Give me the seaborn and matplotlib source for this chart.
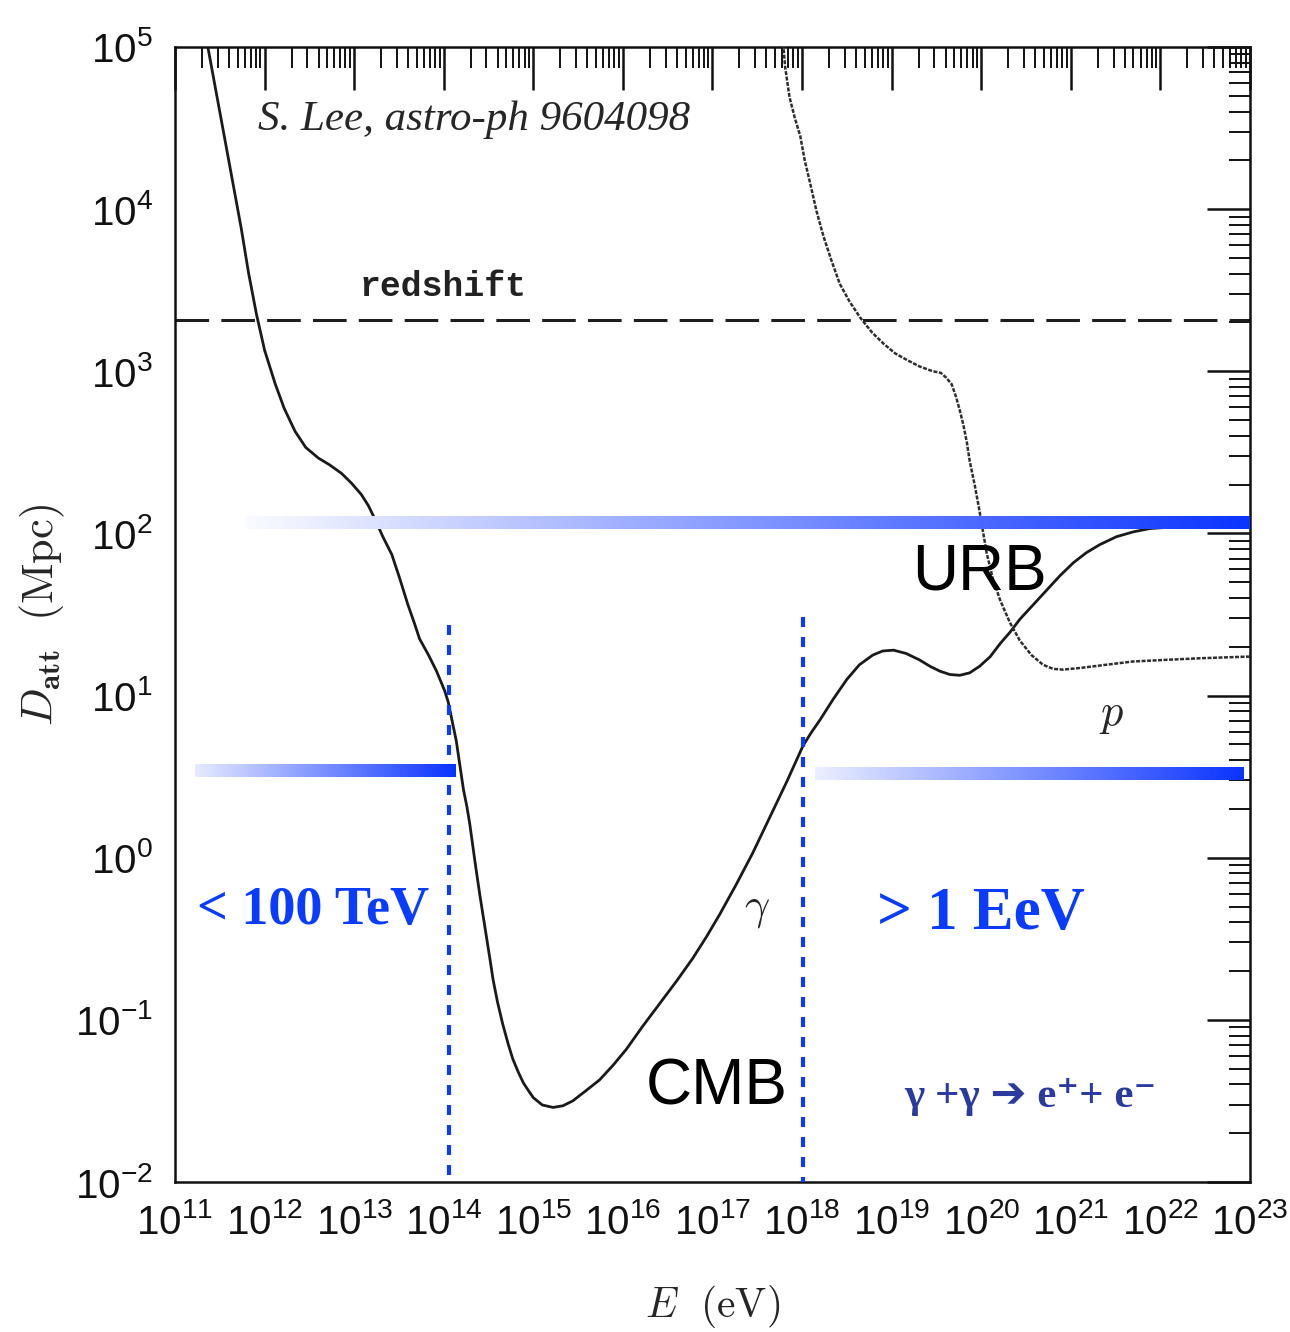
import numpy as np
import pandas as pd
import matplotlib
matplotlib.use("Agg")
import matplotlib.pyplot as plt
import seaborn as sns
from matplotlib.ticker import LogLocator, NullFormatter, LogFormatterSciNotation, FixedLocator
from matplotlib.collections import LineCollection

# ---------------- data (log10 values) ----------------
gamma_logE = [11.36, 11.45, 11.56, 11.65, 11.74, 11.82, 11.91, 12.00, 12.12, 12.22,
              12.34, 12.46, 12.60, 12.72, 12.86, 12.97, 13.08, 13.16, 13.23, 13.32,
              13.42, 13.51, 13.60, 13.67, 13.73, 13.78, 13.83, 13.92, 14.01, 14.05,
              14.08, 14.11, 14.14, 14.18, 14.22, 14.26, 14.29, 14.35, 14.40, 14.44,
              14.48, 14.52, 14.55, 14.60, 14.66, 14.72, 14.77, 14.83, 14.89, 14.95,
              15.00, 15.10, 15.22, 15.33, 15.44, 15.58, 15.74, 15.89, 16.04, 16.22,
              16.41, 16.60, 16.78, 16.93, 17.08, 17.26, 17.45, 17.64, 17.83, 17.92,
              18.01, 18.10, 18.20, 18.35, 18.50, 18.64, 18.79, 18.90, 19.02, 19.16,
              19.31, 19.43, 19.54, 19.65, 19.76, 19.87, 19.98, 20.10, 20.21, 20.32,
              20.43, 20.58, 20.73, 20.88, 21.03, 21.17, 21.32, 21.51, 21.70, 21.88,
              22.14, 22.50, 23.00]
gamma_logD = [5.02, 4.75, 4.42, 4.15, 3.88, 3.61, 3.35, 3.13, 2.92, 2.77,
              2.63, 2.53, 2.465, 2.425, 2.37, 2.31, 2.24, 2.17, 2.09, 1.98,
              1.87, 1.72, 1.56, 1.45, 1.35, 1.30, 1.25, 1.15, 1.03, 0.96,
              0.88, 0.80, 0.72, 0.57, 0.42, 0.31, 0.21, -0.03, -0.22, -0.36,
              -0.50, -0.64, -0.75, -0.89, -1.03, -1.15, -1.24, -1.32, -1.39, -1.44,
              -1.48, -1.525, -1.54, -1.53, -1.50, -1.44, -1.37, -1.28, -1.18, -1.04,
              -0.90, -0.76, -0.62, -0.49, -0.35, -0.17, 0.03, 0.25, 0.47, 0.58,
              0.69, 0.77, 0.85, 0.98, 1.10, 1.19, 1.25, 1.275, 1.28, 1.26,
              1.22, 1.18, 1.15, 1.13, 1.125, 1.14, 1.18, 1.24, 1.32, 1.39,
              1.47, 1.56, 1.65, 1.74, 1.82, 1.88, 1.93, 1.98, 2.01, 2.03,
              2.04, 2.045, 2.05]

proton_logE = [17.79, 17.81, 17.86, 17.92, 17.98, 18.03, 18.09, 18.16, 18.24, 18.33,
               18.42, 18.53, 18.65, 18.78, 18.91, 19.04, 19.17, 19.31, 19.46, 19.55,
               19.61, 19.67, 19.72, 19.76, 19.80, 19.84, 19.87, 19.93, 19.98, 20.02,
               20.06, 20.13, 20.21, 20.32, 20.43, 20.56, 20.69, 20.80, 20.91, 21.10,
               21.32, 21.69, 22.05, 22.44, 22.96, 23.00]
proton_logD = [5.02, 4.88, 4.69, 4.56, 4.45, 4.30, 4.16, 3.99, 3.83, 3.68,
               3.54, 3.43, 3.33, 3.24, 3.17, 3.11, 3.07, 3.03, 3.00, 2.99,
               2.96, 2.92, 2.84, 2.76, 2.67, 2.56, 2.45, 2.29, 2.14, 2.01,
               1.88, 1.72, 1.59, 1.45, 1.34, 1.25, 1.19, 1.165, 1.16, 1.17,
               1.185, 1.21, 1.22, 1.23, 1.24, 1.24]

redshift_D = 2070.0                     # Mpc, dashed line
urb_bar_D = 117.5                       # Mpc, upper blue band
low_bar_D = 3.47                        # Mpc, lower-left blue band
high_bar_D = 3.35                       # Mpc, lower-right blue band
urb_bar_E = [6.0e11, 1.0e23]
low_bar_E = [1.66e11, 1.34e14]
high_bar_E = [1.38e18, 8.3e22]
cut_low_E = 1.15e14                     # ~100 TeV
cut_high_E = 1.02e18                    # ~1 EeV
cut_low_top_D = 27.2
cut_high_top_D = 30.5

x_exponents = list(range(11, 24))
y_exponents = list(range(-2, 6))

# ---------------- style ----------------
sns.set_style("white")
plt.rcParams["font.family"] = ["Liberation Sans", "DejaVu Sans"]
plt.rcParams["mathtext.fontset"] = "cm"

fig = plt.figure(figsize=(12.9, 13.32), dpi=100)
ax = fig.add_axes([175 / 1290, 150 / 1332, 1075 / 1290, 1135 / 1332])
ax.set_xscale("log")
ax.set_yscale("log")
ax.set_xlim(10.0 ** x_exponents[0], 10.0 ** x_exponents[-1])
ax.set_ylim(10.0 ** y_exponents[0], 10.0 ** y_exponents[-1])

df_g = pd.DataFrame({"E": 10 ** np.array(gamma_logE), "D": 10 ** np.array(gamma_logD)})
df_p = pd.DataFrame({"E": 10 ** np.array(proton_logE), "D": 10 ** np.array(proton_logD)})

sns.lineplot(data=df_g, x="E", y="D", ax=ax, color="#1a1a1a", lw=2.0,
             estimator=None, sort=False, zorder=3)
sns.lineplot(data=df_p, x="E", y="D", ax=ax, color="#2e2e2e", lw=1.8,
             estimator=None, sort=False, zorder=3, linestyle=(0, (1.6, 0.6)))

ax.axhline(redshift_D, color="#1e1e1e", lw=2.2, dashes=(11, 4), zorder=2)

blue = np.array([0.04, 0.2, 1.0])


def grad_bar(e0, e1, d, lw, start=0.0, n=300):
    lx = np.linspace(np.log10(e0), np.log10(e1), n + 1)
    xs = 10 ** lx
    segs = [[(xs[i], d), (xs[i + 1], d)] for i in range(n)]
    t = np.linspace(start, 1.0, n)[:, None]
    cols = (1 - t) * np.ones(3) + t * blue
    lc = LineCollection(segs, colors=cols, linewidths=lw, capstyle="butt",
                        antialiaseds=False, zorder=5)
    ax.add_collection(lc)


grad_bar(urb_bar_E[0], urb_bar_E[1], urb_bar_D, 8.0, start=0.02)
grad_bar(low_bar_E[0], low_bar_E[1], low_bar_D, 8.0, start=0.1)
grad_bar(high_bar_E[0], high_bar_E[1], high_bar_D, 8.0, start=0.08)

ax.plot([cut_low_E, cut_low_E], [cut_low_top_D, 10.0 ** y_exponents[0]], color="#0a3cff",
        lw=3.0, linestyle=(0, (2.4, 2.4)), zorder=6, clip_on=False)
ax.plot([cut_high_E, cut_high_E], [cut_high_top_D, 10.0 ** y_exponents[0]], color="#0a3cff",
        lw=3.0, linestyle=(0, (2.4, 2.4)), zorder=6, clip_on=False)

# ---------------- texts ----------------
ax.text(10 ** 11.93, 10 ** 4.55, "S. Lee, astro-ph 9604098", family="Liberation Serif",
        style="italic", fontsize=31, ha="left", va="center", zorder=7)
ax.text(10 ** 13.99, 10 ** 3.52, "redshift", family="Liberation Mono", fontweight="bold",
        fontsize=25, ha="center", va="center", color="#222222", zorder=7)
ax.text(10 ** 19.975, 10 ** 1.76, "URB", fontsize=46, ha="center", va="center",
        color="black", zorder=7)
ax.text(10 ** 17.05, 10 ** -1.416, "CMB", fontsize=46, ha="center", va="center",
        color="black", zorder=7)
ax.text(10 ** 21.46, 10 ** 0.88, r"$p$", math_fontfamily="cm", fontsize=32,
        ha="center", va="center", zorder=7)
ax.text(10 ** 17.50, 10 ** -0.32, r"$\gamma$", math_fontfamily="cm", fontsize=32,
        ha="center", va="center", zorder=7)
ax.text(10 ** 11.245, 10 ** -0.33, "< 100 TeV", family="Liberation Serif",
        fontweight="bold", fontsize=39, ha="left", va="center", color="#0a3cff", zorder=7)
ax.text(10 ** 18.84, 10 ** -0.35, "> 1 EeV", family="Liberation Serif",
        fontweight="bold", fontsize=44, ha="left", va="center", color="#0a3cff", zorder=7)
ax.text(10 ** 20.545, 10 ** -1.478, "γ +γ ➔ e⁺+ e⁻",
        family=["Liberation Serif", "DejaVu Serif", "DejaVu Sans"],
        fontweight="bold", fontsize=31, ha="center", va="center", color="#2a3a9e", zorder=7)

# ---------------- axes ----------------
ax.set_xlabel(r"$E\ \ (\mathrm{eV})$", math_fontfamily="cm", fontsize=30, labelpad=30)
ax.set_ylabel(r"$D_{\mathbf{att}}\ \ (\mathrm{Mpc})$", math_fontfamily="cm", fontsize=32,
              labelpad=6)

ax.xaxis.set_major_locator(FixedLocator(10.0 ** np.array(x_exponents)))
ax.yaxis.set_major_locator(FixedLocator(10.0 ** np.array(y_exponents)))
ax.xaxis.set_minor_locator(LogLocator(base=10, subs=np.arange(2, 10), numticks=200))
ax.yaxis.set_minor_locator(LogLocator(base=10, subs=np.arange(2, 10), numticks=200))
ax.xaxis.set_major_formatter(LogFormatterSciNotation())
ax.yaxis.set_major_formatter(LogFormatterSciNotation())
ax.xaxis.set_minor_formatter(NullFormatter())
ax.yaxis.set_minor_formatter(NullFormatter())

ax.tick_params(which="both", direction="in", top=True, right=True, colors="#111111")
ax.tick_params(which="major", length=31, width=1.8, labelsize=29)
ax.tick_params(which="minor", length=15, width=1.4)
ax.tick_params(axis="x", which="major", pad=15)
ax.tick_params(axis="y", which="major", pad=16)

for s in ax.spines.values():
    s.set_linewidth(1.8)
    s.set_color("#111111")

fig.savefig("out.png", dpi=100, facecolor="white")
